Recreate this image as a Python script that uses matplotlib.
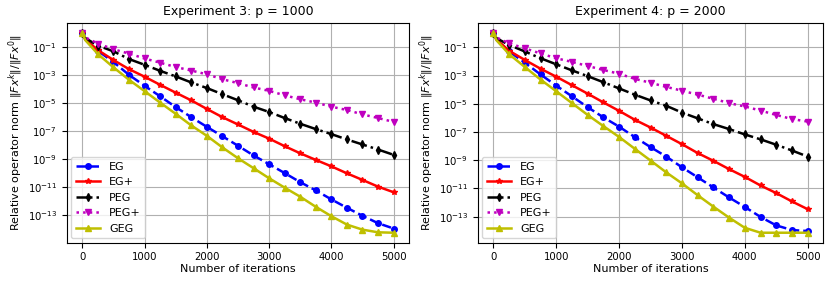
import numpy as np
import matplotlib
matplotlib.use('Agg')
import matplotlib.pyplot as plt

# iterations: 0, one early sample, then every 250
iters = np.array([0, 50] + list(range(250, 5001, 250)))

# log10 of relative operator norm, Experiment 3 (p = 1000)
eg3 = [0, -0.45, -1.25, -2.05, -2.97, -3.75, -4.50, -5.27, -5.99, -6.68, -7.35, -8.03,
       -8.72, -9.35, -9.98, -10.63, -11.22, -11.86, -12.46, -13.03, -13.56, -13.94]
egp3 = [0, -0.45, -1.2, -1.91, -2.56, -3.10, -3.68, -4.24, -4.79, -5.40, -5.99, -6.51,
        -7.04, -7.52, -8.06, -8.57, -9.04, -9.50, -10.0, -10.47, -10.95, -11.35]
peg3 = [0, -0.35, -0.88, -1.29, -1.84, -2.25, -2.68, -3.08, -3.51, -3.91, -4.35, -4.78,
        -5.24, -5.62, -6.05, -6.46, -6.84, -7.20, -7.58, -7.94, -8.30, -8.68]
pegp3 = [0, -0.3, -0.73, -1.14, -1.45, -1.80, -2.10, -2.41, -2.66, -2.93, -3.28, -3.56,
         -3.87, -4.11, -4.43, -4.71, -4.95, -5.24, -5.48, -5.79, -6.05, -6.33]
geg3 = [0, -0.5, -1.48, -2.43, -3.32, -4.13, -4.95, -5.75, -6.58, -7.32, -8.15, -8.92,
        -9.63, -10.35, -11.02, -11.67, -12.39, -13.06, -13.66, -14.02, -14.21, -14.24]

# Experiment 4 (p = 2000)
eg4 = [0, -0.45, -1.29, -2.08, -2.92, -3.71, -4.47, -5.24, -5.96, -6.62, -7.36, -8.07,
       -8.74, -9.50, -10.21, -10.93, -11.64, -12.31, -13.02, -13.62, -13.95, -14.02]
egp4 = [0, -0.45, -1.24, -1.89, -2.51, -3.08, -3.68, -4.28, -4.90, -5.50, -6.13, -6.68,
        -7.27, -7.86, -8.49, -9.04, -9.63, -10.18, -10.79, -11.33, -11.92, -12.47]
peg4 = [0, -0.35, -0.83, -1.29, -1.77, -2.20, -2.63, -3.04, -3.47, -3.91, -4.35, -4.76,
        -5.14, -5.62, -6.03, -6.44, -6.79, -7.17, -7.52, -7.90, -8.31, -8.74]
pegp4 = [0, -0.3, -0.71, -1.07, -1.43, -1.77, -2.03, -2.32, -2.60, -2.87, -3.23, -3.51,
         -3.80, -4.07, -4.35, -4.64, -4.95, -5.19, -5.48, -5.79, -6.08, -6.26]
geg4 = [0, -0.5, -1.48, -2.39, -3.28, -4.11, -4.95, -5.79, -6.58, -7.35, -8.19, -9.02,
        -9.86, -10.64, -11.48, -12.29, -13.07, -13.79, -14.14, -14.14, -14.14, -14.14]

titles = ['Experiment 3: p = 1000', 'Experiment 4: p = 2000']
labels = ['EG', 'EG+', 'PEG', 'PEG+', 'GEG']
styles = [('b', '--', 'o', 4), ('r', '-', '*', 4), ('k', '-.', 'd', 4),
          ('m', ':', 'v', 4.5), ('y', '-', '^', 4.5)]
data = [[eg3, egp3, peg3, pegp3, geg3], [eg4, egp4, peg4, pegp4, geg4]]

fig = plt.figure(figsize=(8.3, 2.86), dpi=100)
boxes = [[0.0804, 0.1514, 0.4126, 0.7671], [0.5755, 0.1514, 0.4165, 0.7671]]
mark = [0] + list(range(2, len(iters)))
for k in range(2):
    ax = fig.add_axes(boxes[k])
    for lab, (c, ls, mk, ms), vals in zip(labels, styles, data[k]):
        ax.semilogy(iters, 10.0 ** np.array(vals), color=c, ls=ls, marker=mk, ms=ms,
                    lw=1.8, markevery=mark, label=lab)
    ax.set_yticks([10.0 ** e for e in range(-13, 0, 2)])
    ax.minorticks_off()
    ax.set_xticks([0, 1000, 2000, 3000, 4000, 5000])
    ax.grid(True, color='#b0b0b0', lw=0.8)
    ax.tick_params(labelsize=7.3)
    ax.set_title(titles[k], fontsize=9)
    ax.set_xlabel('Number of iterations', fontsize=8, labelpad=1)
    ax.set_ylabel(r'Relative operator norm $\|Fx^k\|/\|Fx^0\|$', fontsize=8, labelpad=2)
    ax.legend(loc='lower left', fontsize=8, handlelength=2.2, borderaxespad=0.4)

plt.savefig('out.png', dpi=100)
